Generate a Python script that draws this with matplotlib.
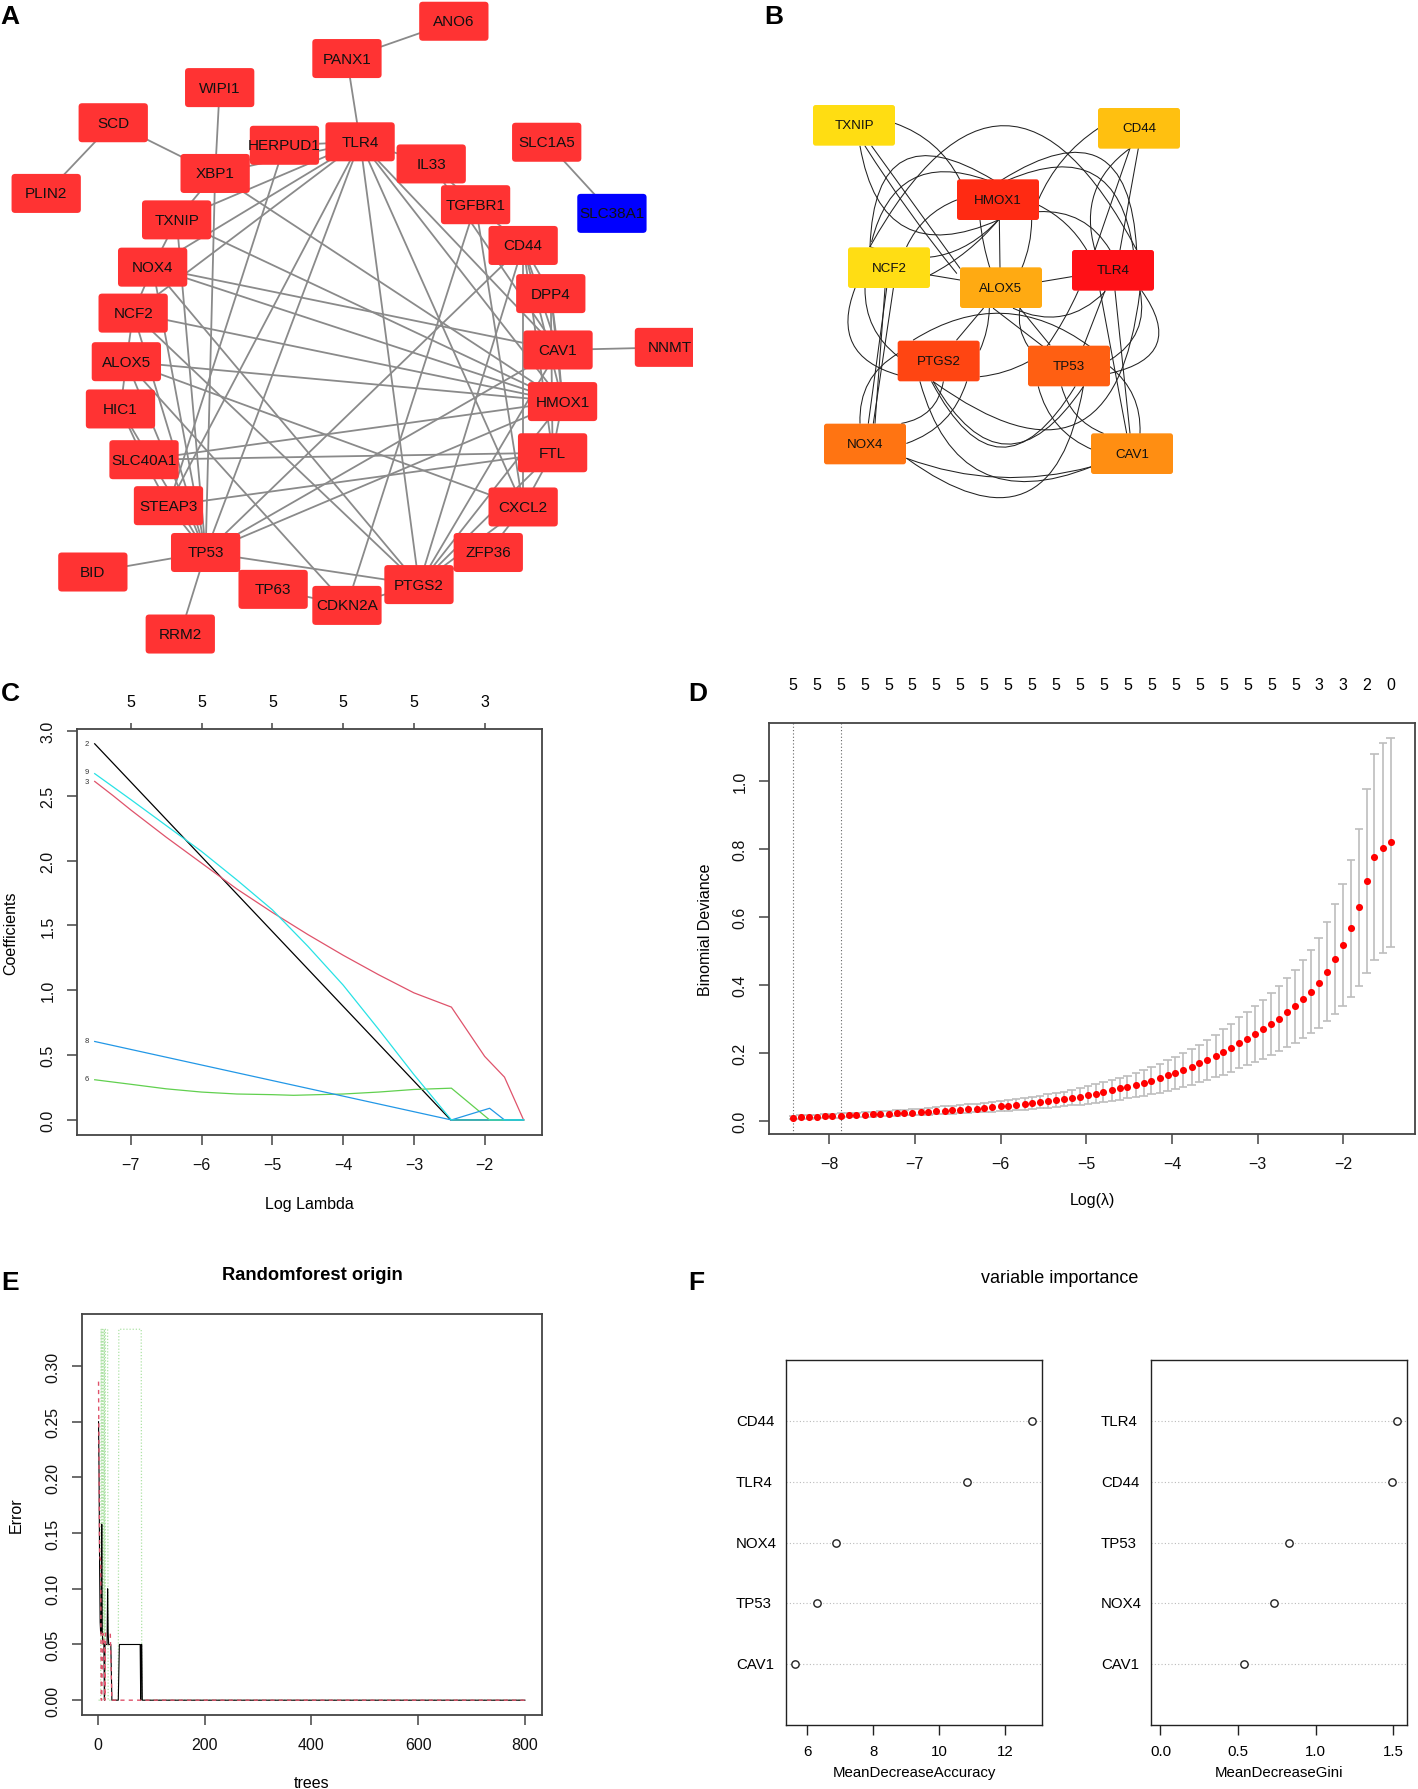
"""Six-panel figure: PPI networks, LASSO path and CV, random forest error and importance."""

import matplotlib
matplotlib.use("Agg")
import matplotlib.pyplot as plt
import matplotlib.transforms as mtransforms
from matplotlib.patches import FancyArrowPatch, FancyBboxPatch

plt.rcParams["font.family"] = ["Liberation Sans", "DejaVu Sans"]

W, H = 1418, 1790
DARK = "#444444"

# ---- panel A network (layout units of the panel axes)
A_NAMES = ["ANO6", "PANX1", "WIPI1", "SCD", "PLIN2", "XBP1", "HERPUD1", "TLR4", "IL33", "SLC1A5", "SLC38A1",
           "TGFBR1", "TXNIP", "CD44", "NOX4", "DPP4", "NCF2", "CAV1", "NNMT", "ALOX5", "HMOX1", "HIC1",
           "SLC40A1", "FTL", "STEAP3", "CXCL2", "TP53", "ZFP36", "BID", "PTGS2", "TP63", "CDKN2A", "RRM2"]
A_X = [1002, 766, 485, 250, 102, 475, 628, 795, 952, 1207, 1351, 1050, 390, 1155, 337, 1216, 294, 1232, 1478,
       279, 1242, 266, 318, 1220, 372, 1155, 454, 1078, 205, 925, 603, 766, 398]
A_Y = [49, 135, 202, 283, 446, 400, 335, 327, 378, 328, 492, 472, 507, 566, 616, 677, 722, 807, 801, 834, 926,
       943, 1060, 1044, 1166, 1169, 1274, 1274, 1319, 1348, 1359, 1396, 1462]
A_EDGES = [("ANO6", "PANX1"), ("PANX1", "TLR4"), ("WIPI1", "XBP1"), ("SCD", "XBP1"), ("SCD", "PLIN2"),
           ("SLC1A5", "SLC38A1"), ("CAV1", "NNMT"), ("TP53", "BID"), ("TP53", "RRM2"), ("TP53", "TP63"),
           ("TP53", "PTGS2"), ("XBP1", "HERPUD1"), ("HERPUD1", "TLR4"), ("TLR4", "IL33"), ("IL33", "TGFBR1"),
           ("TGFBR1", "CD44"), ("XBP1", "TXNIP"), ("TXNIP", "NOX4"), ("NOX4", "NCF2"), ("NCF2", "ALOX5"),
           ("ALOX5", "HIC1"), ("HIC1", "SLC40A1"), ("SLC40A1", "STEAP3"), ("STEAP3", "TP53"), ("CD44", "DPP4"),
           ("DPP4", "CAV1"), ("CAV1", "HMOX1"), ("HMOX1", "FTL"), ("FTL", "CXCL2"), ("CXCL2", "ZFP36"),
           ("ZFP36", "PTGS2"), ("PTGS2", "CDKN2A"), ("CDKN2A", "TP63"),
           ("TLR4", "TP53"), ("TLR4", "PTGS2"), ("TLR4", "CXCL2"), ("TLR4", "HMOX1"), ("TLR4", "CAV1"),
           ("TLR4", "NOX4"), ("TLR4", "TXNIP"), ("TLR4", "NCF2"), ("TLR4", "STEAP3"), ("TLR4", "XBP1"),
           ("XBP1", "TP53"), ("XBP1", "HMOX1"), ("TXNIP", "HMOX1"), ("TXNIP", "TP53"), ("NOX4", "CAV1"),
           ("NOX4", "HMOX1"), ("NOX4", "TP53"), ("NOX4", "PTGS2"), ("NCF2", "HMOX1"), ("NCF2", "PTGS2"),
           ("NCF2", "TP53"), ("ALOX5", "HMOX1"), ("ALOX5", "CXCL2"), ("ALOX5", "CDKN2A"), ("ALOX5", "TP53"),
           ("HIC1", "TP53"), ("SLC40A1", "HMOX1"), ("SLC40A1", "FTL"), ("STEAP3", "FTL"), ("CD44", "TP53"),
           ("CD44", "PTGS2"), ("CD44", "CAV1"), ("CD44", "HMOX1"), ("CD44", "FTL"), ("CD44", "CXCL2"),
           ("DPP4", "FTL"), ("DPP4", "HMOX1"), ("CAV1", "TP53"), ("CAV1", "PTGS2"), ("HMOX1", "TP53"),
           ("HMOX1", "PTGS2"), ("FTL", "PTGS2"), ("TGFBR1", "CDKN2A"), ("TGFBR1", "CXCL2"), ("HERPUD1", "STEAP3"),
           ("CXCL2", "PTGS2"), ("IL33", "CAV1")]

# ---- panel B network
B_NAMES = ["TXNIP", "CD44", "HMOX1", "NCF2", "ALOX5", "TLR4", "PTGS2", "TP53", "NOX4", "CAV1"]
B_X = [282, 1137, 714, 387, 723, 1059, 536, 927, 315, 1116]
B_Y = [196, 205, 419, 623, 683, 631, 903, 918, 1152, 1181]
B_COLORS = ["#FFDD12", "#FFC010", "#FF2A12", "#FFDD14", "#FFAA12", "#FF1016", "#FF4512", "#FF5F12", "#FF7412",
            "#FF8E12"]
# edge routes: where each curve leaves and enters the node boxes, and how far it bows out
B_EDGES = [((405, 190), (600, 360), -0.2), ((300, 258), (715, 480), 0.64), ((335, 258), (600, 625), 0.0),
           ((315, 258), (590, 640), 0.03), ((330, 560), (700, 360), -0.85), ((335, 545), (680, 360), -0.55),
           ((440, 560), (590, 420), -0.2), ((330, 560), (715, 480), 0.35), ((510, 645), (715, 480), 0.1),
           ((510, 645), (600, 660), 0.0), ((330, 560), (1130, 570), -0.92), ((835, 435), (980, 570), -0.15),
           ((835, 455), (1050, 570), -0.3), ((725, 360), (1130, 570), -0.85), ((745, 360), (1120, 570), -0.65),
           ((835, 420), (1015, 205), -0.15), ((718, 480), (720, 625), 0.0), ((660, 480), (690, 625), 0.05),
           ((815, 480), (785, 625), -0.1), ((1110, 265), (1005, 570), 0.35), ((1110, 265), (1005, 570), 0.0),
           ((1135, 265), (1080, 570), 0.0), ((845, 665), (935, 650), 0.0), ((760, 745), (1035, 695), 0.35),
           ((670, 745), (590, 840), 0.0), ((688, 745), (660, 870), -0.1), ((700, 745), (850, 860), 0.0),
           ((780, 745), (870, 855), 0.0), ((780, 745), (805, 860), 0.2), ((380, 685), (325, 1090), 0.0),
           ((400, 685), (340, 1090), 0.0), ((375, 685), (345, 1090), 0.0), ((315, 685), (415, 890), 0.25),
           ((285, 685), (415, 945), 0.55), ((955, 692), (860, 860), -0.05), ((1035, 692), (970, 860), 0.0),
           ((1140, 692), (1050, 900), -0.35), ((1145, 692), (1050, 940), -0.75), ((1020, 692), (1100, 1120), 0.0),
           ((1065, 692), (1110, 1120), 0.0), ((425, 1090), (550, 965), 0.35), ((440, 1150), (620, 965), 0.25),
           ((300, 1090), (415, 880), -0.3), ((440, 1195), (970, 980), 0.8), ((440, 1195), (995, 1220), 0.16),
           ((660, 950), (805, 905), 0.1), ((515, 965), (945, 980), 0.88), ((520, 965), (970, 980), 0.8),
           ((520, 965), (1140, 692), 0.85), ((480, 965), (995, 1220), 0.56), ((460, 840), (990, 860), -0.34),
           ((835, 980), (1000, 1170), 0.25), ((905, 980), (1030, 1120), 0.25), ((1050, 920), (1140, 1120), -0.25)]

# ---- panel C coefficient paths
C_BLACK_X = [-7.51, -2.48, -1.45]
C_BLACK_Y = [2.90, 0.0, 0.0]
C_CYAN_X = [-7.51, -7, -6.5, -6, -5.5, -5, -4.5, -4, -3.5, -3, -2.47, -1.45]
C_CYAN_Y = [2.67, 2.47, 2.27, 2.07, 1.85, 1.62, 1.34, 1.04, 0.70, 0.35, 0.0, 0.0]
C_PINK_X = [-7.51, -7.25, -7, -6.5, -6, -5.5, -5, -4.5, -4, -3.5, -3, -2.47, -2, -1.72, -1.45]
C_PINK_Y = [2.61, 2.50, 2.39, 2.18, 1.98, 1.78, 1.60, 1.43, 1.27, 1.12, 0.98, 0.87, 0.49, 0.33, 0.0]
C_BLUE_X = [-7.51, -2.47, -1.93, -1.72, -1.45]
C_BLUE_Y = [0.605, 0.0, 0.09, 0.0, 0.0]
C_GREEN_X = [-7.51, -7, -6.5, -6, -5.5, -5, -4.7, -4, -3.5, -3, -2.47, -1.93, -1.45]
C_GREEN_Y = [0.31, 0.275, 0.24, 0.215, 0.20, 0.195, 0.19, 0.20, 0.215, 0.235, 0.245, 0.0, 0.0]
C_END_LABELS = ["2", "9", "3", "8", "6"]
C_END_VALUES = [2.90, 2.69, 2.61, 0.61, 0.32]
C_TOP_TICKS = [-7, -6, -5, -4, -3, -2]
C_TOP_LABELS = ["5", "5", "5", "5", "5", "3"]
C_Y_TICKS = [0, 0.5, 1.0, 1.5, 2.0, 2.5, 3.0]
C_Y_LABELS = ["0.0", "0.5", "1.0", "1.5", "2.0", "2.5", "3.0"]

# ---- panel D cross-validation curve
D_LOGLAM = [-8.42, -8.33, -8.23, -8.14, -8.05, -7.96, -7.86, -7.77, -7.68, -7.58,
            -7.49, -7.40, -7.30, -7.21, -7.12, -7.03, -6.93, -6.84, -6.75, -6.65,
            -6.56, -6.47, -6.38, -6.28, -6.19, -6.10, -6.00, -5.91, -5.82, -5.72,
            -5.63, -5.54, -5.45, -5.35, -5.26, -5.17, -5.07, -4.98, -4.89, -4.80,
            -4.70, -4.61, -4.52, -4.42, -4.33, -4.24, -4.14, -4.05, -3.96, -3.87,
            -3.77, -3.68, -3.59, -3.49, -3.40, -3.31, -3.22, -3.12, -3.03, -2.94,
            -2.84, -2.75, -2.66, -2.56, -2.47, -2.38, -2.29, -2.19, -2.10, -2.01,
            -1.91, -1.82, -1.73, -1.64, -1.54, -1.45]
# the three below are listed from the right-hand end of the curve
D_MEAN = [.820, .803, .777, .707, .628, .567, .516, .475, .439, .407, .380, .357, .337, .319, .301, .285, .269,
          .255, .242, .229, .215, .202, .191, .180, .169, .159, .150, .142, .134, .126, .118, .112, .106, .100,
          .095, .090, .084, .079, .075, .071, .067, .063, .060, .057, .054, .051, .049, .046, .044, .042, .040,
          .038, .036, .034, .033, .031, .030, .028, .027, .026, .024, .023, .022, .021, .020, .019, .018, .017,
          .016, .015, .014, .013, .012, .011, .010, .009]
D_UPPER = [1.127, 1.111, 1.079, .978, .860, .769, .697, .637, .586, .539, .504, .472, .445, .420, .398, .376,
           .355, .337, .320, .304, .286, .269, .253, .238, .224, .212, .199, .188, .178, .168, .158, .149, .140,
           .133, .125, .119, .113, .107, .101, .096, .091, .086, .082, .078, .074, .071, .067, .064, .061, .058,
           .055, .052, .050, .048, .046, .044, .042, .040, .038, .036, .034, .033, .031, .030, .028, .027, .026,
           .024, .023, .022, .021, .019, .018, .017, .016, .014]
D_LOWER = [.513, .495, .474, .436, .396, .364, .337, .314, .294, .274, .258, .243, .230, .218, .206, .195, .183,
           .173, .164, .154, .145, .136, .128, .120, .113, .106, .099, .093, .087, .083, .078, .074, .070, .066,
           .062, .059, .056, .053, .050, .047, .045, .043, .041, .039, .037, .035, .033, .031, .030, .028, .027,
           .026, .025, .023, .022, .021, .020, .019, .018, .017, .016, .016, .015, .014, .013, .012, .011, .011,
           .010, .009, .008, .007, .007, .006, .005, .004]
D_TOP_LABELS = ["5"] * 22 + ["3", "3", "2", "0"]
D_VLINES = [-8.42, -7.86]
D_Y_TICKS = [0, 0.2, 0.4, 0.6, 0.8, 1.0]
D_Y_LABELS = ["0.0", "0.2", "0.4", "0.6", "0.8", "1.0"]

# ---- panel E forest error traces
E_OOB_X = [1, 2, 3, 4, 5, 6, 7, 8, 9, 10, 11, 12, 13, 14, 17, 18, 19, 20, 24, 26, 38, 40, 79, 80, 81, 82, 83, 800]
E_OOB_Y = [.25, .20, .12, .07, .06, .06, .158, .06, .053, .053, .05, 0, .05, .05, .05, .10, .06, .05, .05, 0, 0,
           .05, .05, 0, .05, .05, 0, 0]
E_ERR1_X = [1, 2, 3, 5, 6, 7, 9, 12, 13, 14, 23, 26, 800]
E_ERR1_Y = [.286, .20, .13, .125, 0, 0, .06, .05, 0, .06, .06, 0, 0]
E_ERR2_X = [1, 5, 6, 8, 9, 11, 12, 13, 14, 18, 19, 38, 39, 81, 82, 800]
E_ERR2_Y = [0, 0, .333, .05, .333, .05, .333, 0, .333, .333, 0, 0, .333, .333, 0, 0]

# ---- panel F importance
F_ACC_NAMES = ["CAV1", "TP53", "NOX4", "TLR4", "CD44"]
F_ACC_VALUES = [5.64, 6.29, 6.86, 10.86, 12.83]
F_GINI_NAMES = ["CAV1", "NOX4", "TP53", "CD44", "TLR4"]
F_GINI_VALUES = [0.54, 0.732, 0.826, 1.491, 1.524]

fig = plt.figure(figsize=(W / 100, H / 100), dpi=100, facecolor="white")
PX = mtransforms.Affine2D().scale(1 / W, -1 / H).translate(0, 1) + fig.transFigure


def px_axes(left, top, right, bottom):
    return fig.add_axes([left / W, 1 - bottom / H, (right - left) / W, (bottom - top) / H])


def network_axes(left, top, right, bottom, xmax, ymax):
    ax = px_axes(left, top, right, bottom)
    ax.set_xlim(0, xmax)
    ax.set_ylim(ymax, 0)
    ax.set_axis_off()
    return ax


def node(ax, x, y, w, h, color, label, size):
    ax.add_patch(FancyBboxPatch((x - w / 2 + 6, y - h / 2 + 6), w - 12, h - 12, boxstyle="round,pad=6,rounding_size=8",
                                fc=color, ec="none", zorder=3))
    ax.text(x, y, label, ha="center", va="center", fontsize=size, color="#111111", zorder=4, clip_on=True)


def r_style(ax, lw=1.3):
    for s in ax.spines.values():
        s.set_color(DARK)
        s.set_linewidth(lw)
    ax.tick_params(length=7.5, width=1.1, color=DARK, labelsize=11.5, pad=8, labelcolor="#111111")
    ax.tick_params(axis="y", labelrotation=90)
    # centre the rotated labels on their ticks, R style
    for t in ax.get_yticklabels():
        t.set_rotation_mode("anchor")
        t.set_ha("center")
        t.set_va("bottom")


def axis_labels(ax, xlabel, xpos, ylabel=None, ypos=None, size=11.5):
    ax.set_xlabel(xlabel, fontsize=size, va="center", ha="center")
    ax.xaxis.set_label_coords(*xpos, transform=PX)
    if ylabel:
        ax.set_ylabel(ylabel, fontsize=size, va="center", ha="center")
        ax.yaxis.set_label_coords(*ypos, transform=PX)


# panel letters
for letter, lx, ly in [("A", 0, 24), ("B", 764, 24), ("C", 1, 701), ("D", 688, 701), ("E", 1, 1290), ("F", 688, 1290)]:
    fig.text(lx / W, 1 - ly / H, letter, fontsize=19, fontweight="bold", ha="left", va="baseline")

# A
ax_a = network_axes(0, 1, 693, 681, 1530, 1568)
pos_a = dict(zip(A_NAMES, zip(A_X, A_Y)))
for a, b in A_EDGES:
    ax_a.plot([pos_a[a][0], pos_a[b][0]], [pos_a[a][1], pos_a[b][1]], color="#8A8A8A", lw=1.3, zorder=1)
for name, x, y in zip(A_NAMES, A_X, A_Y):
    node(ax_a, x, y, 153, 90, "#0000FF" if name == "SLC38A1" else "#FF3333", name, 11)

# B
ax_b = network_axes(760, 61, 1240, 501, 1440, 1320)
for start, end, rad in B_EDGES:
    ax_b.add_patch(FancyArrowPatch(start, end, connectionstyle=f"arc3,rad={rad}", arrowstyle="-",
                                   shrinkA=0, shrinkB=0, mutation_scale=1, color="#222222", lw=0.75, zorder=1))
for name, x, y, c in zip(B_NAMES, B_X, B_Y, B_COLORS):
    node(ax_b, x, y, 246, 122, c, name, 9.6)

# C
ax_c = px_axes(77, 730, 542, 1136)
ax_c.plot(C_BLACK_X, C_BLACK_Y, color="black", lw=0.9)
ax_c.plot(C_PINK_X, C_PINK_Y, color="#DF536B", lw=0.9)
ax_c.plot(C_GREEN_X, C_GREEN_Y, color="#61D04F", lw=0.9)
ax_c.plot(C_BLUE_X, C_BLUE_Y, color="#2297E6", lw=0.9)
ax_c.plot(C_CYAN_X, C_CYAN_Y, color="#28E2E5", lw=0.9)
ax_c.set_xlim(-7.76, -1.19)
ax_c.set_ylim(-0.116, 3.014)
ax_c.set_xticks(C_TOP_TICKS)
ax_c.set_yticks(C_Y_TICKS, C_Y_LABELS)
r_style(ax_c)
for lab, v in zip(C_END_LABELS, C_END_VALUES):
    ax_c.text(-7.59, v, lab, fontsize=5.5, ha="right", va="center", color="#333333")
top_c = ax_c.secondary_xaxis("top")
top_c.set_xticks(C_TOP_TICKS, C_TOP_LABELS)
top_c.tick_params(length=4.5, width=1.1, color=DARK, labelsize=11.5, pad=10)
top_c.spines["top"].set_visible(False)
axis_labels(ax_c, "Log Lambda", (309, 1205), "Coefficients", (11, 933))

# D
ax_d = px_axes(769, 724, 1415, 1135)
mean = D_MEAN[::-1]
upper = D_UPPER[::-1]
lower = D_LOWER[::-1]
ax_d.vlines(D_LOGLAM, lower, upper, color="#BEBEBE", lw=1.2, zorder=1)
ax_d.hlines(upper, [x - 0.05 for x in D_LOGLAM], [x + 0.05 for x in D_LOGLAM], color="#BEBEBE", lw=1.2, zorder=1)
ax_d.hlines(lower, [x - 0.05 for x in D_LOGLAM], [x + 0.05 for x in D_LOGLAM], color="#BEBEBE", lw=1.2, zorder=1)
ax_d.scatter(D_LOGLAM, mean, s=26, color="#FF0000", zorder=3, linewidths=0)
for v in D_VLINES:
    ax_d.axvline(v, color="#666666", lw=0.8, ls=(0, (1, 2)), zorder=2)
ax_d.set_xlim(-8.70, -1.166)
ax_d.set_ylim(-0.039, 1.171)
ax_d.set_xticks([-8, -7, -6, -5, -4, -3, -2])
ax_d.set_yticks(D_Y_TICKS, D_Y_LABELS)
r_style(ax_d)
top_d = ax_d.secondary_xaxis("top")
top_d.set_xticks(D_LOGLAM[::3], D_TOP_LABELS)
top_d.tick_params(length=0, labelsize=11.5, pad=22)
top_d.spines["top"].set_visible(False)
axis_labels(ax_d, "Log(λ)", (1092, 1201), "Binomial Deviance", (705, 930))

# E
ax_e = px_axes(82, 1315, 542, 1716)
ax_e.plot(E_ERR2_X, E_ERR2_Y, color="#AEE2A6", lw=0.9, ls=(0, (1, 1.5)), zorder=1)
ax_e.plot(E_OOB_X, E_OOB_Y, color="black", lw=0.8, zorder=2)
ax_e.plot(E_ERR1_X, E_ERR1_Y, color="#DF536B", lw=1.0, ls=(0, (3, 3)), zorder=3)
ax_e.set_xlim(-30, 832)
ax_e.set_ylim(-0.0133, 0.3467)
ax_e.set_xticks([0, 200, 400, 600, 800])
ax_e.set_yticks([0, 0.05, 0.10, 0.15, 0.20, 0.25, 0.30], ["0.00", "0.05", "0.10", "0.15", "0.20", "0.25", "0.30"])
r_style(ax_e)
axis_labels(ax_e, "trees", (312, 1784), "Error", (16, 1515))
fig.text(312 / W, 1 - 1276 / H, "Randomforest origin", fontsize=13.2, fontweight="bold", ha="center", va="center")

# F
fig.text(1060 / W, 1 - 1279 / H, "variable importance", fontsize=13, ha="center", va="center")
for name_list, values, box, xlim, ticks, xlabel, lab_x in [
        (F_ACC_NAMES, F_ACC_VALUES, (786, 1042), (5.357, 13.13), [6, 8, 10, 12], "MeanDecreaseAccuracy", 736),
        (F_GINI_NAMES, F_GINI_VALUES, (1151, 1407), (-0.061, 1.588), [0.0, 0.5, 1.0, 1.5], "MeanDecreaseGini", 1101)]:
    ax_f = px_axes(box[0], 1361, box[1], 1726)
    rows = list(range(1, len(values) + 1))
    ax_f.hlines(rows, *xlim, color="#BBBBBB", lw=0.8, ls=(0, (1, 2)), zorder=1)
    ax_f.scatter(values, rows, s=28, facecolor="white", edgecolor="#222222", linewidths=1.0, zorder=3)
    ax_f.set_xlim(*xlim)
    ax_f.set_ylim(0, 6)
    ax_f.set_xticks(ticks)
    ax_f.set_yticks([])
    for lab, row in zip(name_list, rows):
        ax_f.text(lab_x, row, lab, fontsize=10.8, ha="left", va="center",
                  transform=mtransforms.blended_transform_factory(PX, ax_f.transData), clip_on=False)
    for s in ax_f.spines.values():
        s.set_color("#222222")
        s.set_linewidth(1.0)
    ax_f.tick_params(length=7, width=1.0, color="#222222", labelsize=10.8, pad=7)
    ax_f.set_xlabel(xlabel, fontsize=10.8, va="center", ha="center")
    ax_f.xaxis.set_label_coords(sum(box) / 2, 1773, transform=PX)

fig.savefig("out.png", dpi=100)
